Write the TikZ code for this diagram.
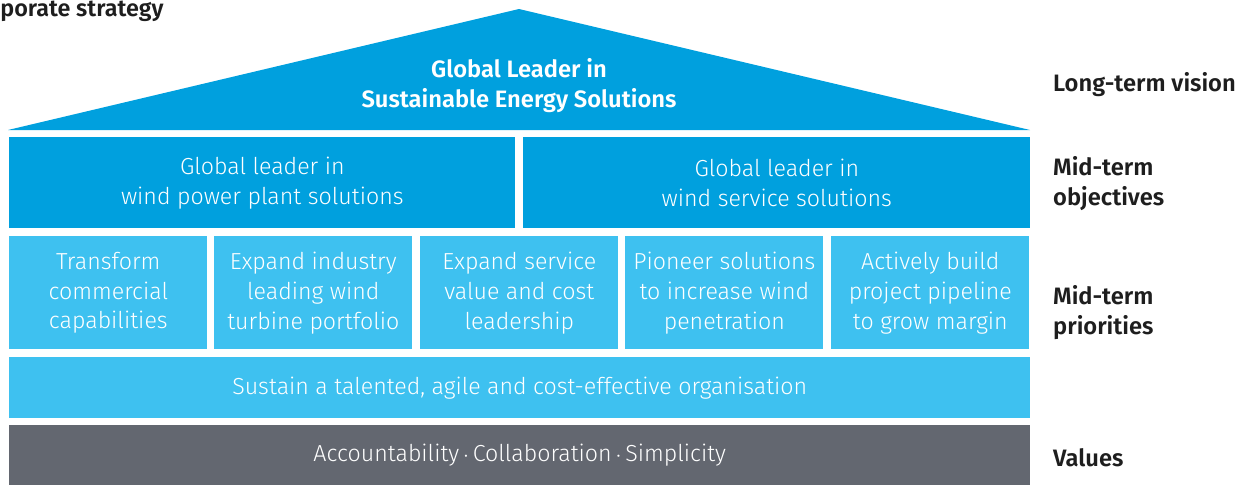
\documentclass[tikz,border=0pt]{standalone}
\usepackage{fontspec}
\setmainfont{Fira Sans}[UprightFont=* Light, BoldFont=* SemiBold]
\definecolor{vdark}{HTML}{00A0DE}
\definecolor{vlight}{HTML}{3EC1F0}
\definecolor{vgrey}{HTML}{636770}
\definecolor{vtext}{HTML}{1E1E1E}
\tikzset{
  blk/.style={anchor=north west, inner sep=0pt, align=center, text=white,
    font=\fontsize{13.2}{17}\selectfont},
  objbox/.style={blk, fill=vdark, minimum width=10.12cm, minimum height=1.82cm},
  priobox/.style={blk, fill=vlight, minimum width=3.96cm, minimum height=2.26cm},
  tag/.style={anchor=west, align=left, text=vtext,
    font=\fontsize{13.5}{17}\selectfont\bfseries}
}
\begin{document}
\begin{tikzpicture}[x=0.02cm, y=-0.02cm]
  \useasboundingbox (0,0) rectangle (1252,484);
  \node[anchor=base west, inner sep=0pt, text=vtext,
    font=\fontsize{13.3}{16}\selectfont\bfseries] (title) at (0,16) {porate strategy};

  % roof
  \fill[vdark] (8,130) -- (519,9) -- (1030,130) -- cycle;
  \node[align=center, text=white, font=\fontsize{13.5}{17}\selectfont\bfseries]
    (vision) at (519,86) {Global Leader in\\Sustainable Energy Solutions};

  % objectives
  \node[objbox] (obj1) at (9,137) {Global leader in\\wind power plant solutions};
  \node[objbox, minimum width=10.14cm] (obj2) at (523,137) {Global leader in\\wind service solutions};

  % priorities
  \node[priobox] (p1) at (9,236) {Transform\\commercial\\capabilities};
  \node[priobox] (p2) at (214,236) {Expand industry\\leading wind\\turbine portfolio};
  \node[priobox] (p3) at (420,236) {Expand service\\value and cost\\leadership};
  \node[priobox] (p4) at (625,236) {Pioneer solutions\\to increase wind\\penetration};
  \node[priobox] (p5) at (831,236) {Actively build\\project pipeline\\to grow margin};

  \node[blk, fill=vlight, minimum width=20.42cm, minimum height=1.22cm] (org) at (9,357)
    {Sustain a talented, agile and cost-effective organisation};
  \node[blk, fill=vgrey, minimum width=20.42cm, minimum height=1.2cm] (values) at (9,425)
    {Accountability\,$\cdot$\,Collaboration\,$\cdot$\,Simplicity};

  % labels on the right
  \node[tag] (l1) at (1047,85) {Long-term vision};
  \node[tag] (l2) at (1047,184) {Mid-term\\objectives};
  \node[tag] (l3) at (1047,313) {Mid-term\\priorities};
  \node[tag] (l4) at (1047,458) {Values};
\end{tikzpicture}
\end{document}
